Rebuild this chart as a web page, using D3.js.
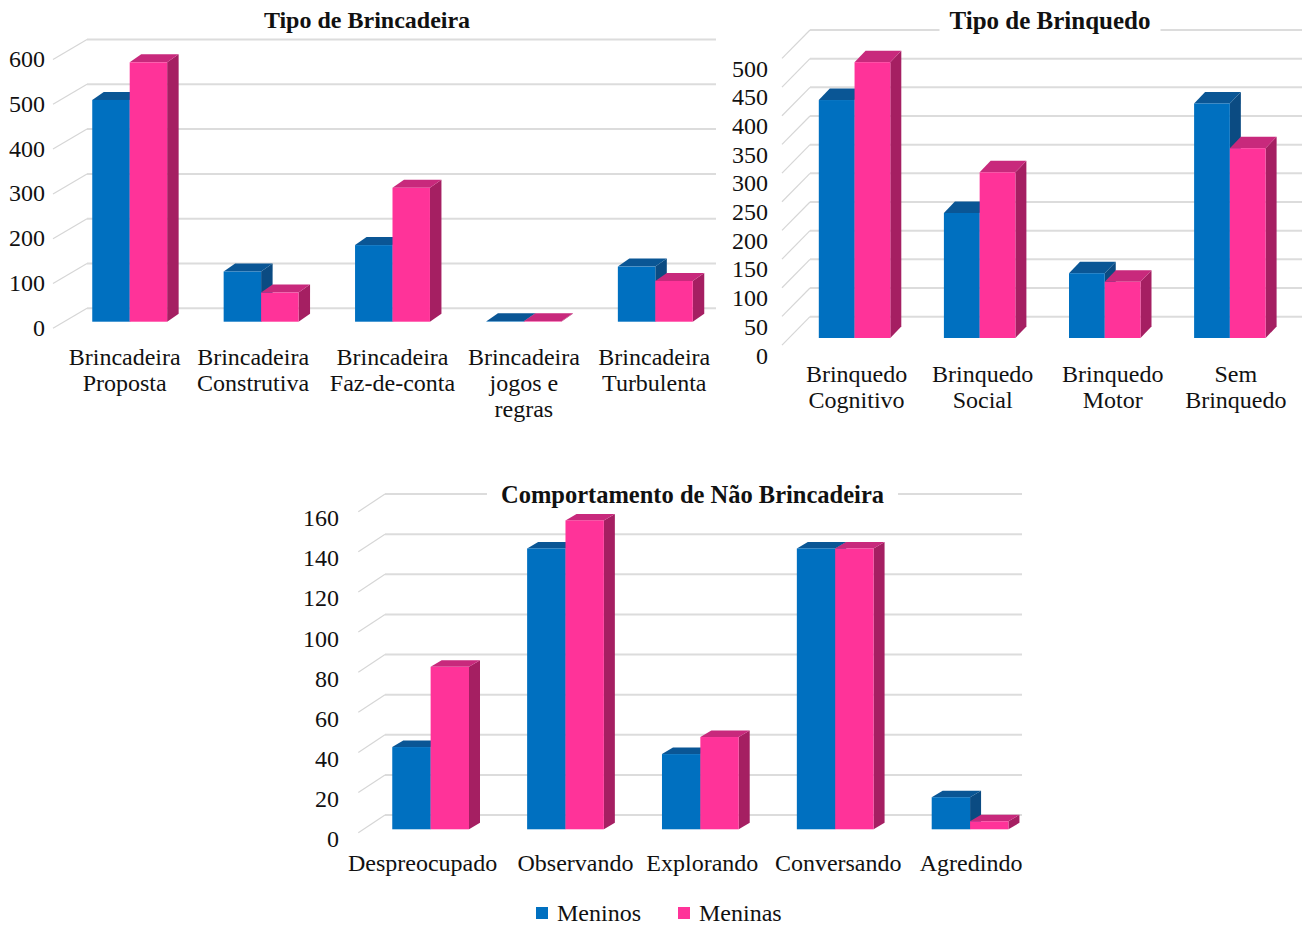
<!DOCTYPE html>
<html>
<head>
<meta charset="utf-8">
<script src="https://cdn.jsdelivr.net/npm/d3@7/dist/d3.min.js"></script>
<style>
  html, body { margin: 0; padding: 0; background: #fff; }
  svg { display: block; font-family: "Liberation Serif", "Times New Roman", serif; }
</style>
</head>
<body>
<svg id="chart" width="1302" height="929"></svg>
<script>
// series
const seriesNames = ['Meninos', 'Meninas'];

// Tipo de Brincadeira
const brincCats = ['Brincadeira\nProposta', 'Brincadeira\nConstrutiva', 'Brincadeira\nFaz-de-conta', 'Brincadeira\njogos e\nregras', 'Brincadeira\nTurbulenta'];
const brincMeninos = [495, 112, 171, 1, 123];
const brincMeninas = [579, 65, 299, 1, 91];
const brincTicks = [0, 100, 200, 300, 400, 500, 600];

// Tipo de Brinquedo
const brinqCats = ['Brinquedo\nCognitivo', 'Brinquedo\nSocial', 'Brinquedo\nMotor', 'Sem\nBrinquedo'];
const brinqMeninos = [415, 218, 113, 409];
const brinqMeninas = [481, 289, 98, 331];
const brinqTicks = [0, 50, 100, 150, 200, 250, 300, 350, 400, 450, 500];

// Comportamento de Não Brincadeira
const naoCats = ['Despreocupado', 'Observando', 'Explorando', 'Conversando', 'Agredindo'];
const naoMeninos = [41, 140, 37.5, 140, 16];
const naoMeninas = [81, 154, 46, 140, 4];
const naoTicks = [0, 20, 40, 60, 80, 100, 120, 140, 160];

const faces = {
  Meninos: { front: '#0070C0', top: '#0A5695', side: '#0B4B82' },
  Meninas: { front: '#FF3399', top: '#C8297C', side: '#A51F62' }
};

const svg = d3.select('#chart');

function drawChart(cfg) {
  const g = svg.append('g');
  const maxT = d3.max(cfg.ticks);

  // back wall, front edge and bar plane share the same vertical scale
  const yBack = d3.scaleLinear().domain([0, maxT]).range([cfg.back0, cfg.back0 - cfg.k * maxT]);
  const yFront = d3.scaleLinear().domain([0, maxT]).range([cfg.back0 + cfg.depth.dy, cfg.back0 + cfg.depth.dy - cfg.k * maxT]);
  const yBar = d3.scaleLinear().domain([0, maxT]).range([cfg.barBase, cfg.barBase - cfg.k * maxT]);

  const x = d3.scaleBand().domain(cfg.cats).range(cfg.xRange)
    .paddingInner(cfg.pad).paddingOuter(cfg.pad / 2);
  const xs = d3.scaleBand().domain(seriesNames).range([0, x.bandwidth()]);

  // gridlines on back wall
  g.selectAll('line.grid').data(cfg.ticks).join('line')
    .attr('class', 'grid')
    .attr('x1', cfg.backLeft).attr('x2', cfg.backRight)
    .attr('y1', d => yBack(d)).attr('y2', d => yBack(d))
    .attr('stroke', '#dcdcdc').attr('stroke-width', 2);

  // side wall lines
  g.selectAll('line.side').data(cfg.ticks).join('line')
    .attr('class', 'side')
    .attr('x1', cfg.backLeft - cfg.depth.dx).attr('y1', d => yFront(d))
    .attr('x2', cfg.backLeft).attr('y2', d => yBack(d))
    .attr('stroke', '#d6d6d6').attr('stroke-width', 1.2);

  // value labels
  g.selectAll('text.ylab').data(cfg.ticks).join('text')
    .attr('class', 'ylab')
    .attr('x', cfg.yLabelX).attr('y', d => yFront(d) + cfg.yLabelDy)
    .attr('dy', '0.35em').attr('text-anchor', 'end')
    .attr('font-size', 24).attr('fill', '#111')
    .text(d => d);

  // bars
  const rows = cfg.cats.flatMap((c, i) => seriesNames.map((s, j) => ({ cat: c, s, v: cfg.values[j][i] })));
  const bd = cfg.barDepth;
  const bars = g.selectAll('g.bar').data(rows).join('g').attr('class', 'bar');
  bars.each(function (d) {
    const sel = d3.select(this);
    const x0 = x(d.cat) + xs(d.s), w = xs.bandwidth();
    const yt = yBar(d.v), yb = yBar(0);
    const c = faces[d.s];
    sel.append('polygon')
      .attr('points', [[x0 + w, yt], [x0 + w + bd.dx, yt - bd.dy], [x0 + w + bd.dx, yb - bd.dy], [x0 + w, yb]].join(' '))
      .attr('fill', c.side);
    sel.append('polygon')
      .attr('points', [[x0, yt], [x0 + bd.dx, yt - bd.dy], [x0 + w + bd.dx, yt - bd.dy], [x0 + w, yt]].join(' '))
      .attr('fill', c.top);
    sel.append('rect')
      .attr('x', x0).attr('y', yt).attr('width', w).attr('height', yb - yt)
      .attr('fill', c.front);
  });

  // category labels (Excel nudged some of them to keep them apart)
  const cl = g.selectAll('text.cat').data(cfg.cats).join('text')
    .attr('class', 'cat')
    .attr('text-anchor', 'middle').attr('font-size', 24).attr('fill', '#111');
  cl.each(function (d, i) {
    const t = d3.select(this);
    const cx = x(d) + x.bandwidth() / 2 + cfg.catDx[i];
    d.split('\n').forEach((line, li) => {
      t.append('tspan').attr('x', cx).attr('y', cfg.catY + li * 26).text(line);
    });
  });

  // title with white backing over the top gridline
  const tg = g.append('g');
  const tt = tg.append('text')
    .attr('x', cfg.title.x).attr('y', cfg.title.y)
    .attr('text-anchor', 'middle').attr('font-size', cfg.title.size).attr('font-weight', 'bold').attr('fill', '#111')
    .text(cfg.title.text);
  const bb = tt.node().getBBox();
  tg.insert('rect', 'text')
    .attr('x', bb.x - cfg.title.pad).attr('y', bb.y).attr('width', bb.width + cfg.title.pad * 2).attr('height', bb.height)
    .attr('fill', '#fff');
}

drawChart({
  cats: brincCats, values: [brincMeninos, brincMeninas], ticks: brincTicks,
  back0: 308.3, k: 0.448, depth: { dx: 34, dy: 20 }, barBase: 321.7,
  backLeft: 87, backRight: 716,
  xRange: [64, 721], pad: 0.43, barDepth: { dx: 11.5, dy: 8 },
  yLabelX: 45, yLabelDy: -1, catY: 365, catDx: [-5, -8, 0, 0, -1],
  title: { text: 'Tipo de Brincadeira', x: 367, y: 28, pad: 12, size: 24 }
});

drawChart({
  cats: brinqCats, values: [brinqMeninos, brinqMeninas], ticks: brinqTicks,
  back0: 316.7, k: 0.5734, depth: { dx: 28, dy: 28.4 }, barBase: 338,
  backLeft: 810, backRight: 1302,
  xRange: [792, 1292.4], pad: 0.4285, barDepth: { dx: 11, dy: 11.5 },
  yLabelX: 768, yLabelDy: 10, catY: 382, catDx: [2, 3, 8, 6],
  title: { text: 'Tipo de Brinquedo', x: 1050, y: 29, pad: 10, size: 25 }
});

drawChart({
  cats: naoCats, values: [naoMeninos, naoMeninas], ticks: naoTicks,
  back0: 815, k: 2.006, depth: { dx: 26.7, dy: 17.7 }, barBase: 829.3,
  backLeft: 385, backRight: 1022,
  xRange: [363.2, 1037.5], pad: 0.431, barDepth: { dx: 11, dy: 6.5 },
  yLabelX: 339, yLabelDy: 6, catY: 871, catDx: [-8, 10, 2, 3, 1],
  title: { text: 'Comportamento de Não Brincadeira', x: 692.5, y: 503, pad: 14, size: 24.5 }
});

// legend
const legendX = [536, 678];
const legend = svg.append('g').selectAll('g').data(seriesNames).join('g')
  .attr('transform', (d, i) => `translate(${legendX[i]},913)`);
legend.append('rect').attr('x', 0).attr('y', -6).attr('width', 12).attr('height', 12)
  .attr('fill', d => faces[d].front);
legend.append('text').attr('x', 21).attr('y', 8).attr('font-size', 24).attr('fill', '#111').text(d => d);
</script>
</body>
</html>
